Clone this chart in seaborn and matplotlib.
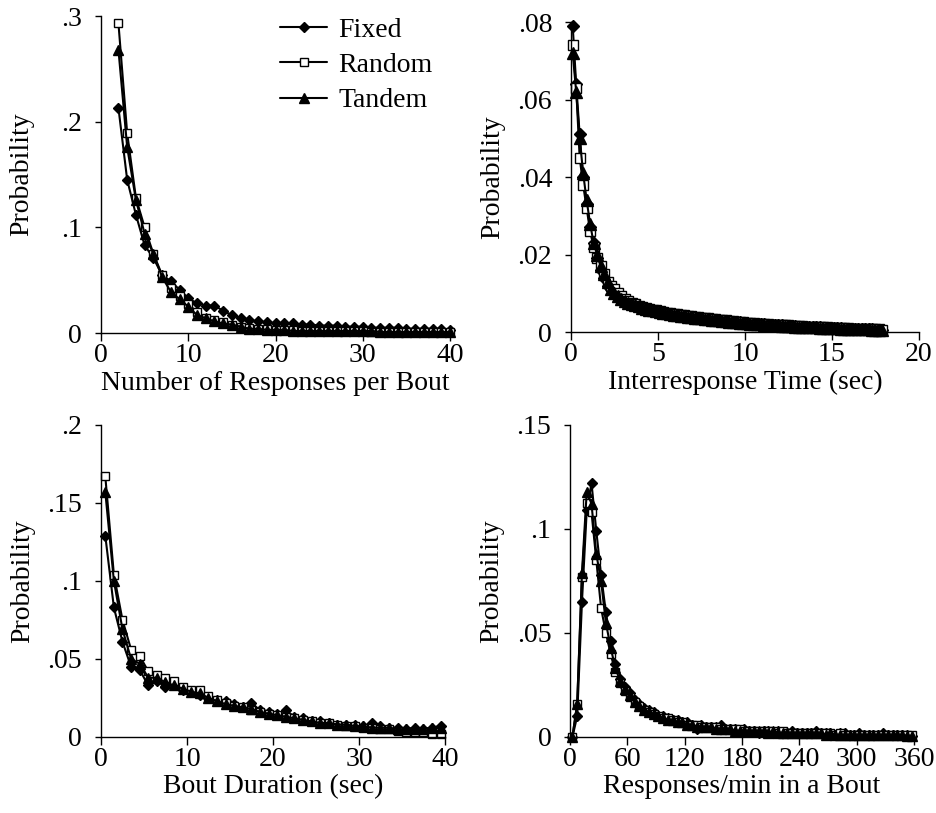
import numpy as np
import seaborn as sns
import matplotlib.pyplot as plt

# ---- data ----
# Number of responses per bout (x = 2..40)
bout_n = list(range(2, 41))
n_fixed = [.213, .145, .112, .083, .071, .055, .049, .041, .033, .028,
           .026, .026, .021, .017, .014, .012, .011, .010, .009, .009,
           .009, .008, .008, .007, .007, .007, .006, .006, .006, .005,
           .005, .005, .005, .004, .004, .004, .004, .004, .003]
n_random = [.293, .189, .128, .100, .075, .055, .043, .035, .027, .020,
            .014, .012, .010, .008, .006, .005, .004, .004, .003, .003,
            .003, .002, .002, .002, .002, .002, .002, .002, .002, .001,
            .001, .001, .001, .001, .001, .001, .001, .001, .001]
n_tandem = [.268, .176, .126, .094, .075, .053, .039, .032, .025, .017,
            .014, .011, .009, .008, .006, .004, .004, .003, .003, .003,
            .002, .002, .002, .002, .002, .002, .002, .002, .002, .002,
            .001, .001, .001, .001, .001, .001, .001, .001, .001]

# Interresponse time (sec), bins of 0.2 s
irt = np.round(np.arange(0.1, 18.0, 0.2), 1)
irt_fixed = [.079, .064, .051, .040, .033, .027, .023, .019, .016, .014,
             .012, .011, .0100, .0092, .0085, .0080, .0075, .0071, .0068, .0065,
             .0062, .0060, .0058, .0056, .0054,
             .0052, .0050, .0049, .0047, .0046, .0044, .0043, .0042, .0040, .0039,
             .0038, .0036, .0035, .0034, .0033, .0032, .0031, .0030, .0029, .0028,
             .0027, .0026, .0025, .0025, .0024, .0023, .0022, .0022, .0021, .0020,
             .0020, .0019, .0019, .0018, .0017, .0017, .0016, .0016, .0015, .0015,
             .0014, .0014, .0013, .0013, .0013, .0012, .0012, .0011, .0011, .0011,
             .0010, .0010, .0010, .0009, .0009, .0009, .0008, .0008, .0008, .0007,
             .0007, .0007, .0006, .0006, .0006]
irt_random = [.074, .063, .045, .038, .032, .026, .022, .019, .017, .015,
              .013, .012, .0110, .0100, .0092, .0086, .0080, .0076, .0072, .0068,
              .0065, .0062, .0060, .0058, .0056,
              .0054, .0052, .0050, .0049, .0047, .0046, .0045, .0043, .0042, .0041,
              .0040, .0038, .0037, .0036, .0035, .0034, .0033, .0032, .0031, .0030,
              .0029, .0028, .0027, .0026, .0025, .0024, .0024, .0023, .0022, .0021,
              .0021, .0020, .0019, .0019, .0018, .0018, .0017, .0017, .0016, .0016,
              .0015, .0015, .0014, .0014, .0013, .0013, .0012, .0012, .0012, .0011,
              .0011, .0011, .0010, .0010, .0010, .0009, .0009, .0009, .0008, .0008,
              .0008, .0007, .0007, .0007, .0006]
irt_tandem = [.072, .062, .050, .041, .034, .028, .023, .020, .017, .015,
              .013, .011, .0100, .0093, .0086, .0080, .0076, .0072, .0069, .0066,
              .0063, .0060, .0058, .0056, .0054,
              .0052, .0050, .0048, .0047, .0045, .0044, .0042, .0041, .0040, .0038,
              .0037, .0036, .0035, .0034, .0033, .0032, .0031, .0030, .0029, .0028,
              .0027, .0026, .0025, .0024, .0024, .0023, .0022, .0021, .0021, .0020,
              .0019, .0019, .0018, .0018, .0017, .0016, .0016, .0015, .0015, .0014,
              .0014, .0013, .0013, .0013, .0012, .0012, .0011, .0011, .0011, .0010,
              .0010, .0010, .0009, .0009, .0009, .0008, .0008, .0008, .0007, .0007,
              .0007, .0006, .0006, .0006, .0005]

# Bout duration (sec), bins of 1 s
dur = np.arange(0.5, 40, 1.0)
dur_fixed = [.129, .083, .061, .045, .043, .033, .036, .032, .034, .030,
             .029, .027, .025, .024, .023, .021, .019, .022, .017, .016,
             .015, .017, .013, .012, .010, .010, .009, .008, .008, .008,
             .007, .009, .007, .006, .006, .005, .006, .005, .006, .007]
dur_random = [.167, .104, .075, .056, .052, .042, .040, .038, .036, .032,
              .030, .030, .026, .024, .022, .020, .019, .017, .016, .015,
              .014, .013, .012, .011, .010, .009, .009, .008, .007, .007,
              .006, .006, .005, .005, .004, .003, .003, .003, .002, .002]
dur_tandem = [.157, .100, .069, .050, .047, .038, .038, .035, .033, .031,
              .029, .028, .025, .023, .021, .020, .019, .018, .016, .015,
              .014, .013, .012, .011, .010, .009, .009, .008, .008, .007,
              .007, .006, .006, .006, .005, .005, .005, .005, .006, .006]

# Responses/min in a bout, bins of 5
rate = np.arange(2.5, 360, 5.0)
rate_fixed = [0, .010, .065, .109, .122, .099, .078, .060, .046, .035,
              .028, .024, .021, .018, .016, .014, .013, .012, .010, .010,
              .009, .008, .008, .007, .007, .006, .004, .006, .005, .005,
              .005, .006, .004, .004, .004, .0035, .004, .003, .003, .002,
              .003, .003, .002, .003, .002, .002, .003, .002, .002, .002,
              .002, .003, .002, .002, .002, .001, .002, .002, .001, .001,
              .002, .001, .001, .001, .001, .002, .001, .001, .001, .001,
              .001, .0005]
rate_random = [0, .016, .077, .1125, .108, .085, .062, .050, .040, .031,
               .026, .022, .019, .017, .015, .013, .012, .011, .010, .009,
               .009, .008, .007, .007, .006, .006, .006, .005, .005, .005,
               .005, .004, .004, .004, .004, .004, .003, .003, .003, .003,
               .003, .003, .003, .002, .003, .002, .002, .002, .002, .002,
               .002, .002, .002, .002, .002, .001, .002, .001, .001, .001,
               .001, .001, .001, .001, .001, .001, .001, .001, .001, .001,
               .001, .001]
rate_tandem = [0, .016, .079, .118, .112, .088, .075, .055, .043, .033,
               .027, .023, .020, .017, .015, .013, .012, .011, .010, .009,
               .008, .008, .007, .007, .006, .006, .005, .005, .005, .005,
               .004, .004, .004, .004, .003, .003, .003, .003, .003, .003,
               .003, .002, .003, .002, .002, .002, .002, .002, .002, .002,
               .002, .002, .002, .001, .002, .001, .001, .001, .001, .001,
               .001, .001, .001, .001, .001, .001, .001, .001, .001, .001,
               .0005, .0005]

sns.set_style("ticks", {"axes.edgecolor": "black", "xtick.color": "black",
                        "ytick.color": "black", "text.color": "black",
                        "axes.labelcolor": "black"})
plt.rcParams['font.family'] = ['Liberation Serif', 'DejaVu Serif']
plt.rcParams['font.size'] = 20

fig = plt.figure(figsize=(9.36, 8.13), dpi=100)
ax_n = fig.add_axes([0.1079, 0.5904, 0.3729, 0.3899])
ax_irt = fig.add_axes([0.6100, 0.5916, 0.3718, 0.3813])
ax_dur = fig.add_axes([0.1079, 0.0935, 0.3675, 0.3838])
ax_rate = fig.add_axes([0.6090, 0.0935, 0.3675, 0.3838])

styles = [
    ('Fixed', 'D', 5.0, 'black'),
    ('Random', 's', 5.5, 'white'),
    ('Tandem', '^', 6.5, 'black'),
]


def draw(ax, x, series, label=False, scale=1.0):
    for (name, mk, ms, fc), y in zip(styles, series):
        sns.lineplot(x=x, y=y, ax=ax, color='black', linewidth=1.5,
                     marker=mk, markersize=ms * scale, markerfacecolor=fc,
                     markeredgecolor='black', markeredgewidth=1.0,
                     clip_on=False, label=name if label else None)


draw(ax_n, bout_n, [n_fixed, n_random, n_tandem], label=True)
draw(ax_irt, irt, [irt_fixed, irt_random, irt_tandem], scale=1.3)
draw(ax_dur, dur, [dur_fixed, dur_random, dur_tandem])
draw(ax_rate, rate, [rate_fixed, rate_random, rate_tandem])

ax_n.set(xlim=(0, 40), ylim=(0, .3))
ax_n.set_xticks([0, 10, 20, 30, 40])
ax_n.set_yticks([0, .1, .2, .3], ['0', '.1', '.2', '.3'])
ax_n.set_xlabel('Number of Responses per Bout')

ax_irt.set(xlim=(0, 20), ylim=(0, .08))
ax_irt.set_xticks([0, 5, 10, 15, 20])
ax_irt.set_yticks([0, .02, .04, .06, .08], ['0', '.02', '.04', '.06', '.08'])
ax_irt.set_xlabel('Interresponse Time (sec)')

ax_dur.set(xlim=(0, 40), ylim=(0, .2))
ax_dur.set_xticks([0, 10, 20, 30, 40])
ax_dur.set_yticks([0, .05, .1, .15, .2], ['0', '.05', '.1', '.15', '.2'])
ax_dur.set_xlabel('Bout Duration (sec)')

ax_rate.set(xlim=(0, 360), ylim=(0, .15))
ax_rate.set_xticks([0, 60, 120, 180, 240, 300, 360])
ax_rate.set_yticks([0, .05, .1, .15], ['0', '.05', '.1', '.15'])
ax_rate.set_xlabel('Responses/min in a Bout')

for ax in [ax_n, ax_irt, ax_dur, ax_rate]:
    sns.despine(ax=ax)
    ax.spines['left'].set_linewidth(1.0)
    ax.spines['bottom'].set_linewidth(1.0)
    ax.tick_params(axis='y', length=4.5, width=1, pad=9, labelsize=20)
    ax.tick_params(axis='x', length=5.5, width=1, pad=1.5, labelsize=20)
    ax.set_ylabel('Probability', fontsize=20)
    ax.yaxis.set_label_coords(-0.19, 0.5)
    ax.xaxis.label.set_size(20)
    ax.xaxis.labelpad = 2

leg = ax_n.legend(loc='upper left', bbox_to_anchor=(0.513, 0.995),
                  frameon=False, borderpad=0, borderaxespad=0,
                  handlelength=1.7, handletextpad=0.4, labelspacing=0.35,
                  fontsize=20)

plt.savefig('out.png', dpi=100)
plt.close()
